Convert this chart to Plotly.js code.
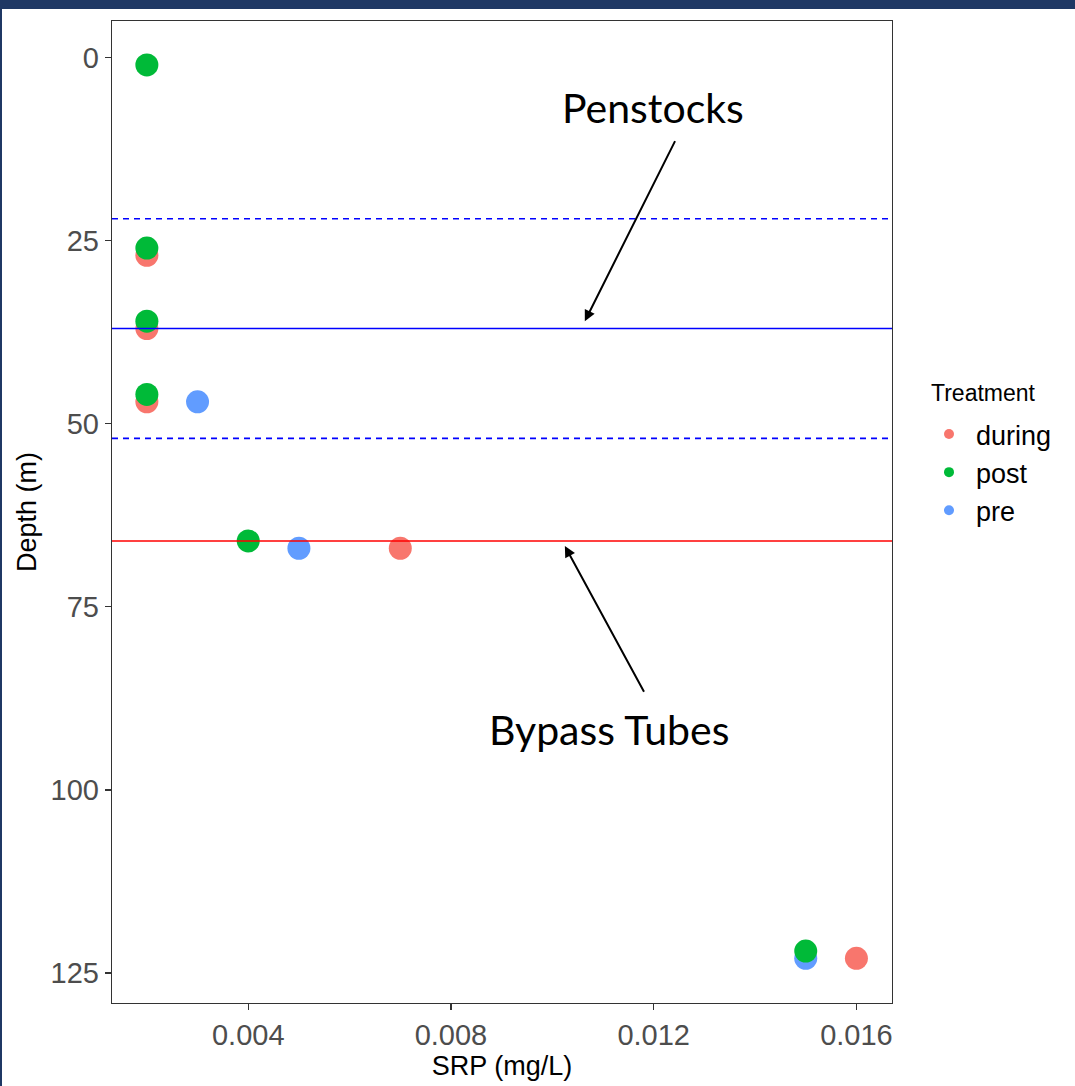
<!DOCTYPE html>
<html>
<head>
<meta charset="utf-8">
<script src="https://cdn.plot.ly/plotly-3.0.1.min.js"></script>
<style>
  html, body { margin: 0; padding: 0; background: #ffffff; }
  #wrap { position: relative; width: 1075px; height: 1086px; overflow: hidden; }
  #chart { position: absolute; left: 0; top: 0; width: 1075px; height: 1086px; }
  .bar-top { position: absolute; left: 0; top: 0; width: 1075px; height: 9px; background: #1F3864; }
  .bar-left { position: absolute; left: 0; top: 0; width: 2px; height: 1086px; background: #1F3864; }
</style>
</head>
<body>
<div id="wrap">
  <div id="chart"></div>
  <div class="bar-top"></div>
  <div class="bar-left"></div>
</div>
<script>
// SRP (mg/L) by sampling depth (m), grouped by treatment period
const duringSRP   = [0.002, 0.002, 0.002, 0.007, 0.016];
const duringDepth = [27, 37, 47, 67, 123];

const preSRP   = [0.003, 0.005, 0.015];
const preDepth = [47, 67, 123];

const postSRP   = [0.002, 0.002, 0.002, 0.002, 0.004, 0.015];
const postDepth = [1, 26, 36, 46, 66, 122];

// Reference depths: penstock intake band (dashed), penstock centre, bypass tubes
const penstockBand  = [22, 52];
const penstockDepth = 37;
const bypassDepth   = 66;

const treatments = ['during', 'post', 'pre'];
const treatmentColors = { during: '#F8766D', post: '#00BA38', pre: '#619CFF' };

const xTicks = [0.004, 0.008, 0.012, 0.016];
const xTickText = ['0.004', '0.008', '0.012', '0.016'];
const yTicks = [0, 25, 50, 75, 100, 125];

// Callout labels and their arrow (tail -> head) in data units
const penstockLabel = { text: 'Penstocks', x: 0.01198, y: 6.8 };
const penstockArrow = { tailX: 0.012436, tailY: 11.2, headX: 0.010641, headY: 36.0 };
const bypassLabel = { text: 'Bypass Tubes', x: 0.01111, y: 91.8 };
const bypassArrow = { tailX: 0.011825, tailY: 86.8, headX: 0.010247, headY: 66.7 };

function pointTrace(name, xs, ys) {
  return {
    type: 'scatter', mode: 'markers', name: name,
    x: xs, y: ys, showlegend: false, hoverinfo: 'skip',
    marker: { size: 23, color: treatmentColors[name], line: { width: 0 } }
  };
}

const traces = [
  pointTrace('during', duringSRP, duringDepth),
  pointTrace('pre', preSRP, preDepth),
  pointTrace('post', postSRP, postDepth)
];

// Small legend keys
treatments.forEach(function (t) {
  traces.push({
    type: 'scatter', mode: 'markers', name: t,
    x: [null], y: [null], showlegend: true, hoverinfo: 'skip',
    marker: { size: 10, color: treatmentColors[t] }
  });
});

function hline(y, color, dash) {
  return {
    type: 'line', xref: 'paper', yref: 'y', x0: 0, x1: 1, y0: y, y1: y,
    layer: 'above', line: { color: color, width: 1.6, dash: dash }
  };
}

const shapes = [
  hline(penstockBand[0], '#0000FF', '6px,5px'),
  hline(penstockBand[1], '#0000FF', '6px,5px'),
  hline(penstockDepth, '#0000FF', 'solid'),
  hline(bypassDepth, '#FF0000', 'solid')
];

const calloutFont = { family: 'Lato, "Open Sans", sans-serif', size: 41, color: '#000000' };

function arrow(a) {
  return {
    x: a.headX, y: a.headY, xref: 'x', yref: 'y',
    ax: a.tailX, ay: a.tailY, axref: 'x', ayref: 'y',
    text: '', showarrow: true, arrowhead: 2, arrowsize: 1.1, arrowwidth: 2,
    arrowcolor: '#000000', standoff: 0, startstandoff: 0
  };
}

// Plot area in pixels, used to place the legend heading and the legend itself
const plotLeft = 112, plotTop = 21, plotW = 780, plotH = 982;

const annotations = [
  { x: penstockLabel.x, y: penstockLabel.y, xref: 'x', yref: 'y', text: penstockLabel.text,
    showarrow: false, font: calloutFont, xanchor: 'center', yanchor: 'middle' },
  { x: bypassLabel.x, y: bypassLabel.y, xref: 'x', yref: 'y', text: bypassLabel.text,
    showarrow: false, font: calloutFont, xanchor: 'center', yanchor: 'middle' },
  arrow(penstockArrow),
  arrow(bypassArrow),
  // legend heading
  { x: (929 - plotLeft) / plotW, y: 1 - (393 - plotTop) / plotH, xref: 'paper', yref: 'paper',
    text: 'Treatment', showarrow: false,
    font: { size: 23, color: '#000000' }, xanchor: 'left', yanchor: 'middle' }
];

const axisBase = {
  showgrid: false, zeroline: false,
  showline: true, mirror: true, linecolor: '#333333', linewidth: 1.3,
  ticks: 'outside', ticklen: 6, tickwidth: 1.3, tickcolor: '#333333',
  tickfont: { family: '"Liberation Sans", Arial, sans-serif', size: 29, color: '#4D4D4D' }
};

const layout = {
  width: 1075, height: 1086,
  margin: { l: plotLeft, r: 1075 - plotLeft - plotW, t: plotTop, b: 1086 - plotTop - plotH, pad: 0 },
  paper_bgcolor: '#ffffff', plot_bgcolor: '#ffffff',
  font: { family: '"Liberation Sans", Arial, sans-serif', color: '#000000' },
  xaxis: Object.assign({}, axisBase, {
    range: [0.001312, 0.016702],
    tickvals: xTicks, ticktext: xTickText,
    title: { text: 'SRP (mg/L)', font: { size: 27, color: '#000000' }, standoff: 6 }
  }),
  yaxis: Object.assign({}, axisBase, {
    range: [129.1, -5.0],
    tickvals: yTicks,
    title: { text: 'Depth (m)', font: { size: 27, color: '#000000' }, standoff: 6 }
  }),
  shapes: shapes,
  annotations: annotations,
  showlegend: true,
  legend: {
    x: (922 - plotLeft) / plotW, y: 1 - (410 - plotTop) / plotH, xanchor: 'left', yanchor: 'top',
    bgcolor: 'rgba(0,0,0,0)', borderwidth: 0,
    font: { size: 27, color: '#000000' },
    tracegroupgap: 0, itemsizing: 'trace', itemwidth: 44
  }
};

Plotly.newPlot('chart', traces, layout, { staticPlot: true, displayModeBar: false });
</script>
</body>
</html>
